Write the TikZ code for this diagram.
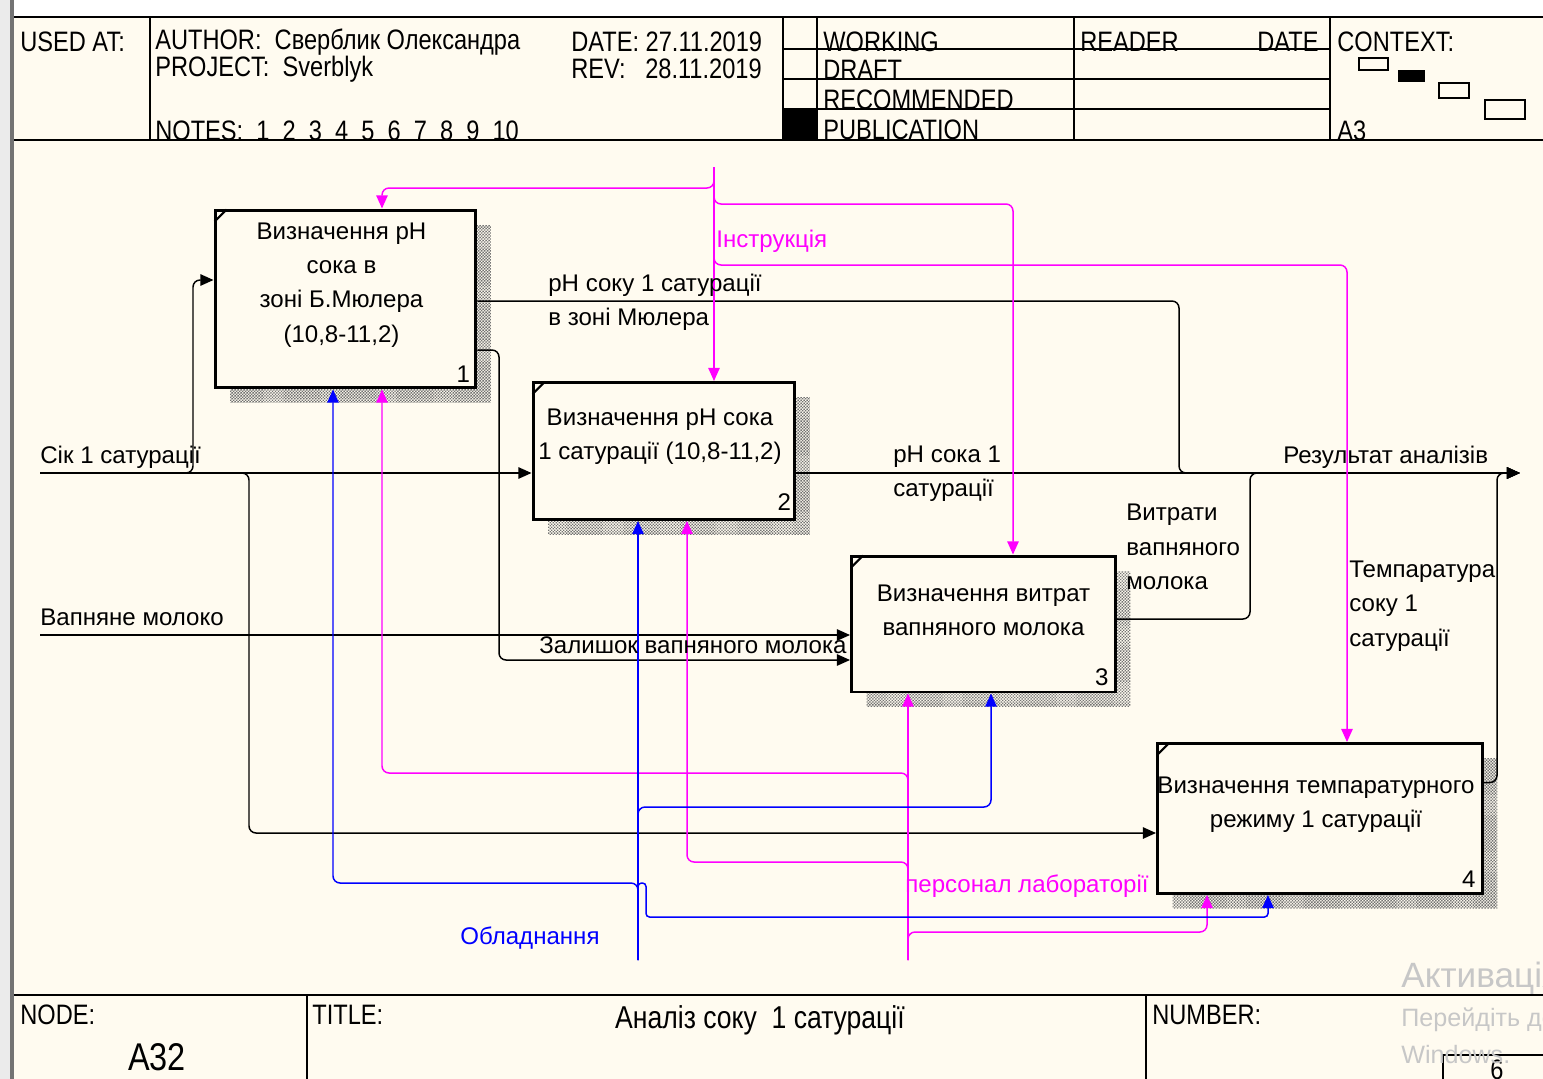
\documentclass[tikz,border=0pt]{standalone}
\usepackage{fontspec}
\setmainfont{Liberation Sans}
\newfontfamily\narrowfont[FakeStretch=0.84]{Liberation Sans}
\usetikzlibrary{positioning,arrows.meta,shadows,patterns}

\definecolor{paper}{RGB}{255,251,240}
\definecolor{idefmag}{RGB}{255,0,255}
\definecolor{idefblue}{RGB}{0,0,255}

% fine checker dots for the box shadows
\pgfdeclarepatternformonly{idefshade}{\pgfqpoint{-0.1pt}{-0.1pt}}{\pgfqpoint{1.8pt}{1.8pt}}{\pgfqpoint{1.7pt}{1.7pt}}{%
  \pgfpathrectangle{\pgfqpoint{0pt}{0pt}}{\pgfqpoint{0.8pt}{0.8pt}}%
  \pgfpathrectangle{\pgfqpoint{0.85pt}{0.85pt}}{\pgfqpoint{0.8pt}{0.8pt}}%
  \pgfusepath{fill}}

\begin{document}
\begin{tikzpicture}[
    x=0.02cm, y=-0.02cm,
    every node/.style={font=\fontsize{13.7}{19.5}\selectfont, inner sep=0pt},
    act/.style={draw, line width=1.7pt, fill=paper,
                general shadow={shadow xshift=0.3cm, shadow yshift=-0.3cm,
                                pattern=idefshade, pattern color=black!55}},
    acttxt/.style={align=center},
    lbl/.style={anchor=west, align=left},
    hdr/.style={font=\narrowfont\fontsize{16}{18}\selectfont, anchor=west},
    wm/.style={anchor=west, text=black!22},
    frame/.style={line width=1pt},
    flow/.style={-{Triangle[length=7.5pt,width=6.5pt]}, line width=0.85pt, rounded corners=4pt},
    ctrl/.style={flow, draw=idefmag},
    mech/.style={flow, draw=idefblue}
  ]
  \useasboundingbox (0,0) rectangle (1543,1079);
  % page and window edge
  \fill[white] (0,0) rectangle (1543,1079);
  \fill[paper] (14,17) rectangle (1543,1079);
  \fill[black!8] (0,0) rectangle (10,1079);
  \draw[black!55, line width=2pt] (12,0) -- (12,1079);

  % header and footer frame
  \draw[frame] (14,17) -- (1543,17);
  \draw[frame] (14,140) -- (1543,140);
  \draw[frame] (14,995) -- (1543,995);
  \foreach \x in {150,783,817,1074,1330}
    \draw[frame] (\x,17) -- (\x,140);
  \foreach \y in {49,79,109}
    \draw[frame] (783,\y) -- (1330,\y);
  \fill (783,109) rectangle (817,140);
  \draw[frame] (1359,58) rectangle (1388,70);
  \fill (1398,70) rectangle (1425,82);
  \draw[frame] (1439,83) rectangle (1469,98);
  \draw[frame] (1485,100) rectangle (1525,119);
  \draw[frame] (307,995) -- (307,1079);
  \draw[frame] (1146,995) -- (1146,1079);
  \draw[frame] (1443,1079) |- (1543,1055);

  \node[hdr] (usedat)  at (20,42)   {USED AT:};
  \node[hdr] (author)  at (155,42)  {AUTHOR:~~Сверблик Олександра};
  \node[hdr] (project) at (155,69)  {PROJECT:~~Sverblyk};
  \node[hdr] (notes)   at (155,131) {NOTES:~~1~~2~~3~~4~~5~~6~~7~~8~~9~~10};
  \node[hdr] (date)    at (571,42)  {DATE: 27.11.2019};
  \node[hdr] (rev)     at (571,69)  {REV:~~~28.11.2019};
  \node[hdr] (working) at (823,42)  {WORKING};
  \node[hdr] (draft)   at (823,70)  {DRAFT};
  \node[hdr] (recomm)  at (823,100) {RECOMMENDED};
  \node[hdr] (public)  at (823,130) {PUBLICATION};
  \node[hdr] (reader)  at (1080,42) {READER};
  \node[hdr, anchor=east] (rdate) at (1319,42) {DATE};
  \node[hdr] (context) at (1337,42) {CONTEXT:};
  \node[hdr] (ctxa)    at (1337,131) {A3};
  \node[hdr] (nodelbl) at (20,1015)  {NODE:};
  \node[hdr] (titlelbl) at (312,1015) {TITLE:};
  \node[hdr] (numlbl)  at (1152,1015) {NUMBER:};
  \node[hdr, anchor=center, font=\narrowfont\fontsize{22}{24}\selectfont] (nodeno) at (157,1057) {A32};
  \node[hdr, anchor=center, font=\narrowfont\fontsize{18}{20}\selectfont] (titletxt) at (760,1020) {Аналіз соку~~1 сатурації};
  \node[hdr, anchor=center] (pageno) at (1497,1070) {6};

  % activity boxes
  \node[act, minimum width=5.22cm, minimum height=3.56cm] (b1) at (345.5,299) {};
  \node[act, minimum width=5.24cm, minimum height=2.74cm] (b2) at (664,451) {};
  \node[act, minimum width=5.28cm, minimum height=2.72cm] (b3) at (983.5,624) {};
  \node[act, minimum width=6.5cm,  minimum height=3.0cm]  (b4) at (1320,818.5) {};
  \foreach \b in {b1,b2,b3,b4}
    \draw[line width=1.2pt] ([shift={(1,13)}]\b.north west) -- ([shift={(13,1)}]\b.north west);

  \node[acttxt] (b1t) at ([shift={(-4,-14)}]b1.center) {Визначення pH\\сока в\\зоні Б.Мюлера\\(10,8-11,2)};
  \node[acttxt] (b2t) at ([shift={(-4,-14)}]b2.center) {Визначення pH сока\\1 сатурації (10,8-11,2)};
  \node[acttxt] (b3t) at ([shift={(0,-14)}]b3.center) {Визначення витрат\\вапняного молока};
  \node[acttxt] (b4t) at ([shift={(-4,-14)}]b4.center) {Визначення темпаратурного\\режиму 1 сатурації};
  \node[above left=0.14cm and 0.14cm of b1.south east] (b1n) {1};
  \node[above left=0.2cm and 0.1cm of b2.south east] (b2n) {2};
  \node[above left=0.14cm and 0.16cm of b3.south east] (b3n) {3};
  \node[above left=0.14cm and 0.16cm of b4.south east] (b4n) {4};

  % inputs
  \coordinate (sik) at (40,473);
  \coordinate (milk) at (40,635);
  \coordinate (sikup) at (193,280);
  \coordinate (sikdn) at (249,833);
  \draw[flow] (sik) -- (sik -| b2.west);
  \draw[flow] (sik) -| (sikup) -- (sikup -| b1.west);
  \draw[flow] (sik) -| (sikdn) -- (sikdn -| b4.west);
  \draw[flow] (milk) -- (milk -| b3.west);

  % outputs
  \coordinate (res) at (1520,473);
  \coordinate (o1) at (1179,473);
  \coordinate (o2) at (1250,473);
  \coordinate (o3) at (1497,473);
  \coordinate (rest) at (499,660);
  \draw[flow] (b2.east |- res) -- (res);
  \draw[flow] ([shift={(0,2)}]b1.east) -| (o1) -- (res);
  \draw[flow] ([shift={(0,51)}]b1.east) -| (rest) -- (rest -| b3.west);
  \draw[flow] ([shift={(0,-5)}]b3.east) -| (o2) -- (res);
  \draw[flow] ([shift={(0,-36)}]b4.east) -| (o3) -- (res);

  % controls
  \coordinate (ins) at (714,167);
  \coordinate (i1) at (382,188);
  \coordinate (i2) at (1013,204);
  \coordinate (i3) at (1347,265);
  \draw[ctrl] (ins) -- (ins |- b2.north);
  \draw[ctrl] (ins) |- (i1) -- (i1 |- b1.north);
  \draw[ctrl] (ins) |- (i2) -- (i2 |- b3.north);
  \draw[ctrl] (ins) |- (i3) -- (i3 |- b4.north);

  % mechanisms
  \coordinate (staff) at (908,960);
  \coordinate (p1) at (382,773);
  \coordinate (p2) at (687,862);
  \coordinate (p3) at (1207,932);
  \draw[ctrl] (staff) -- (staff |- b3.south);
  \draw[ctrl] (staff) |- (p1) -- (p1 |- b1.south);
  \draw[ctrl] (staff) |- (p2) -- (p2 |- b2.south);
  \draw[ctrl] (staff) |- (p3) -- (p3 |- b4.south);

  \coordinate (equip) at (638,960);
  \coordinate (e1) at (333,883);
  \coordinate (e2) at (991,807);
  \coordinate (e3a) at (646,883);
  \coordinate (e3) at (1268,917);
  \draw[mech] (equip) -- (equip |- b2.south);
  \draw[mech] (equip) |- (e1) -- (e1 |- b1.south);
  \draw[mech] (equip) |- (e2) -- (e2 |- b3.south);
  \draw[mech, rounded corners=2pt] (equip) |- (e3a) |- (e3) -- (e3 |- b4.south);

  % arrow labels
  \node[lbl] (lsik)  at (40,457)   {Сік 1 сатурації};
  \node[lbl] (lmilk) at (40,617)   {Вапняне молоко};
  \node[lbl] (lph1)  at (548,302)  {pH соку 1 сатурації\\в зоні Мюлера};
  \node[lbl] (lrest) at (539,645)  {Залишок вапняного молока};
  \node[lbl] (lph2)  at (893,474)  {pH сока 1\\сатурації};
  \node[lbl] (lres)  at (1283,457) {Результат аналізів};
  \node[lbl] (lcost) at (1126,547) {Витрати\\вапняного\\молока};
  \node[lbl] (ltemp) at (1349,606) {Темпаратура\\соку 1\\сатурації};
  \node[lbl, text=idefmag]  (linstr) at (716,241) {Інструкція};
  \node[lbl, text=idefmag]  (lstaff) at (905,886) {персонал лабораторії};
  \node[lbl, text=idefblue] (lequip) at (460,938) {Обладнання};

  % screen watermark
  \begin{scope}
    \clip (0,0) rectangle (1543,1079);
    \node[wm, font=\fontsize{20}{22}\selectfont] (wm1) at (1401,978) {Активація Windows};
    \node[wm, font=\fontsize{14.3}{16}\selectfont] (wm2) at (1401,1020) {Перейдіть до параметрів};
    \node[wm, font=\fontsize{14.3}{16}\selectfont] (wm3) at (1401,1055) {Windows.};
  \end{scope}
\end{tikzpicture}
\end{document}
